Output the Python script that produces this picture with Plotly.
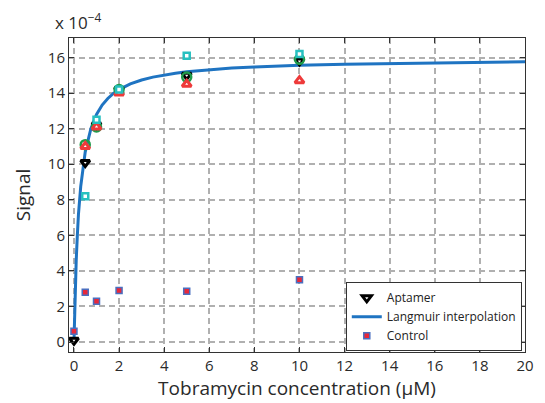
import plotly.graph_objects as go

conc = [0, 0.5, 1, 2, 5, 10]
aptamer = [0.1, 10.1, 12.2, 14.2, 15.0, 15.8]
rep_green_x = [0.5, 1, 2, 5, 10]
rep_green = [11.1, 12.1, 14.2, 14.9, 15.9]
rep_red_x = [0.5, 1, 2, 5, 10]
rep_red = [11.0, 12.1, 14.0, 14.5, 14.7]
rep_cyan_x = [0.5, 1, 2, 5, 10]
rep_cyan = [8.2, 12.5, 14.2, 16.1, 16.2]
control = [0.6, 2.8, 2.3, 2.9, 2.85, 3.5]

fit_x = [0, 0.05, 0.1, 0.15, 0.2, 0.3, 0.4, 0.5, 0.75, 1, 1.25, 1.5, 1.75, 2, 2.5, 3, 3.5,
         4, 4.5, 5, 6, 7, 8, 9, 10, 12, 14, 16, 18, 20]
fit_y = [0, 2.7, 4.6, 6.0, 7.2, 8.76, 9.87, 10.7, 12.0, 12.8, 13.33, 13.7, 13.98, 14.2, 14.52,
         14.74, 14.9, 15.03, 15.12, 15.2, 15.32, 15.41, 15.47, 15.53, 15.57, 15.63, 15.67,
         15.71, 15.73, 15.76]

xticks = list(range(0, 21, 2))
yticks = list(range(0, 17, 2))

FONT = "Open Sans"
TXT = "#2a2a2a"
fig = go.Figure()

fig.add_trace(go.Scatter(x=fit_x, y=fit_y, mode="lines", name="Langmuir interpolation",
                         line=dict(color="#1f74c2", width=3), legendrank=2))
fig.add_trace(go.Scatter(x=conc, y=aptamer, mode="markers", name="Aptamer",
                         marker=dict(symbol="triangle-down", size=8, color="white",
                                     line=dict(color="black", width=3)), legendrank=1))
fig.add_trace(go.Scatter(x=rep_green_x, y=rep_green, mode="markers", showlegend=False,
                         marker=dict(symbol="circle", size=9, color="rgba(255,255,255,0)",
                                     line=dict(color="#1f9a4a", width=2.5))))
fig.add_trace(go.Scatter(x=rep_red_x, y=rep_red, mode="markers", showlegend=False,
                         marker=dict(symbol="triangle-up", size=8, color="white",
                                     line=dict(color="#ee3a3a", width=3))))
fig.add_trace(go.Scatter(x=rep_cyan_x, y=rep_cyan, mode="markers", showlegend=False,
                         marker=dict(symbol="square", size=6, color="white",
                                     line=dict(color="#27c0c0", width=2.5))))
fig.add_trace(go.Scatter(x=conc, y=control, mode="markers", name="Control",
                         marker=dict(symbol="square", size=6, color="#e8283a",
                                     line=dict(color="#4a6fc0", width=1.5)), legendrank=3))

axis_common = dict(showline=True, linecolor="#333", linewidth=1, mirror="ticks",
                   ticks="inside", ticklen=5, tickcolor="#333",
                   showgrid=True, gridcolor="#b0b0b0", griddash="6px,4px", gridwidth=1.8,
                   zeroline=False, tickfont=dict(size=15, color=TXT, family=FONT))

fig.update_xaxes(range=[-0.22, 20], tickvals=xticks,
                 title=dict(text="Tobramycin concentration (μM)", font=dict(size=19, color=TXT, family=FONT), standoff=4),
                 **axis_common)
fig.update_yaxes(range=[-0.56, 17.1], tickvals=yticks,
                 title=dict(text="Signal", font=dict(size=19, color=TXT, family=FONT), standoff=12),
                 **axis_common)

fig.add_annotation(x=0, y=1, xref="paper", yref="paper", xanchor="left", yanchor="bottom",
                   xshift=-16, yshift=2,
                   text="x 10<sup>−4</sup>", showarrow=False,
                   font=dict(size=17, color=TXT, family=FONT))

fig.update_layout(
    width=545, height=403,
    margin=dict(l=69, r=11, t=38, b=51),
    paper_bgcolor="white", plot_bgcolor="white",
    font=dict(family=FONT, color=TXT),
    legend=dict(x=0.607, y=0.222, xanchor="left", yanchor="top",
                bgcolor="white", bordercolor="#333", borderwidth=1,
                font=dict(size=12, family=FONT, color="#222"),
                tracegroupgap=0, itemsizing="trace"),
)

fig.write_html("out.html")
